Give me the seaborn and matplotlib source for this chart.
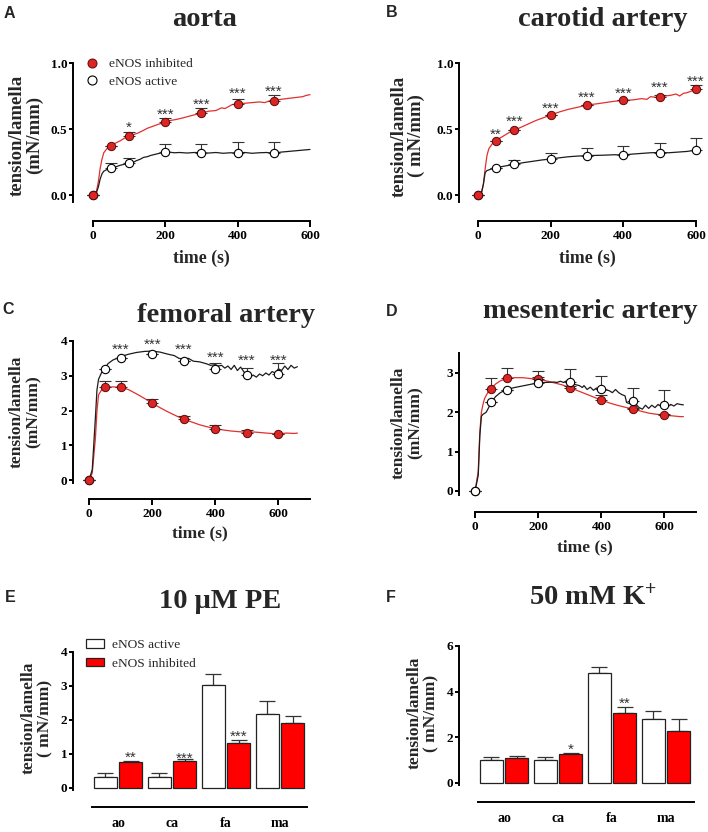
import numpy as np
import pandas as pd
import matplotlib
matplotlib.use("Agg")
import matplotlib.pyplot as plt
import seaborn as sns
from matplotlib.lines import Line2D
from matplotlib.patches import Patch
from matplotlib.ticker import FormatStrFormatter

# ======================= DATA =======================
# ---- Panel A : aorta ----
a_red_t = [0, 5, 10, 15, 20, 25, 30, 40, 50, 60, 75, 90, 100, 110, 125, 140, 150, 165, 180, 200,
           215, 230, 250, 270, 285, 300, 320, 340, 355, 365, 375, 385, 400, 420, 440, 460, 475, 490, 500, 520,
           535, 550, 565, 580, 590, 600]
a_red_v = [0, 0.0, 0.03, 0.1, 0.2, 0.27, 0.32, 0.355, 0.373, 0.39, 0.41, 0.435, 0.447, 0.455, 0.47, 0.49, 0.505, 0.52, 0.535, 0.55,
           0.565, 0.572, 0.585, 0.6, 0.61, 0.62, 0.635, 0.64, 0.66, 0.655, 0.67, 0.685, 0.69, 0.695, 0.70, 0.705, 0.70, 0.715, 0.715, 0.725,
           0.73, 0.735, 0.74, 0.745, 0.755, 0.76]
a_blk_t = [0, 10, 15, 20, 25, 30, 40, 50, 60, 75, 90, 100, 110, 120, 130, 140, 150, 160, 175, 190,
           200, 210, 225, 240, 260, 280, 300, 320, 340, 360, 380, 400, 420, 440, 460, 480, 500, 520, 540, 560,
           580, 600]
a_blk_v = [0, 0.02, 0.06, 0.12, 0.16, 0.18, 0.195, 0.202, 0.21, 0.225, 0.235, 0.24, 0.245, 0.26, 0.27, 0.285, 0.29, 0.3, 0.31, 0.32,
           0.323, 0.325, 0.32, 0.322, 0.318, 0.322, 0.32, 0.318, 0.322, 0.316, 0.32, 0.318, 0.322, 0.316, 0.32, 0.322, 0.316, 0.325, 0.33, 0.335,
           0.34, 0.345]
a_mark_t = [0, 50, 100, 200, 300, 400, 500]
a_red_mean = [0, 0.373, 0.447, 0.55, 0.624, 0.69, 0.715]
a_red_sem = [0, 0.0, 0.028, 0.036, 0.036, 0.04, 0.042]
a_blk_mean = [0, 0.202, 0.24, 0.323, 0.32, 0.32, 0.315]
a_blk_sem = [0, 0.038, 0.043, 0.061, 0.07, 0.08, 0.089]
a_star_t = [100, 200, 300, 400, 500]
a_star_lab = ["*", "***", "***", "***", "***"]
a_star_y = [0.545, 0.644, 0.72, 0.803, 0.818]

# ---- Panel B : carotid artery ----
b_red_t = [0, 10, 15, 20, 25, 30, 40, 50, 60, 75, 90, 100, 120, 140, 160, 180, 200, 225, 250, 275,
           300, 325, 350, 375, 400, 425, 450, 465, 475, 490, 500, 515, 530, 545, 555, 565, 575, 585, 600]
b_red_v = [0, 0.02, 0.08, 0.2, 0.3, 0.35, 0.39, 0.41, 0.43, 0.455, 0.48, 0.49, 0.515, 0.54, 0.565, 0.585, 0.606, 0.63, 0.65, 0.665,
           0.682, 0.69, 0.70, 0.71, 0.717, 0.72, 0.73, 0.725, 0.745, 0.74, 0.742, 0.75, 0.755, 0.765, 0.75, 0.77, 0.775, 0.785, 0.80]
b_blk_t = [0, 10, 15, 20, 25, 35, 50, 75, 100, 125, 150, 175, 200, 225, 250, 275, 300, 325, 350, 375,
           400, 425, 450, 475, 500, 525, 550, 575, 600]
b_blk_v = [0, 0.02, 0.08, 0.17, 0.185, 0.195, 0.207, 0.22, 0.232, 0.245, 0.255, 0.265, 0.273, 0.282, 0.29, 0.295, 0.298, 0.30, 0.302, 0.305,
           0.303, 0.31, 0.315, 0.32, 0.322, 0.32, 0.325, 0.33, 0.34]
b_mark_t = [0, 50, 100, 200, 300, 400, 500, 600]
b_red_mean = [0, 0.41, 0.49, 0.606, 0.682, 0.717, 0.742, 0.80]
b_red_sem = [0, 0, 0, 0, 0, 0, 0.018, 0.03]
b_blk_mean = [0, 0.207, 0.232, 0.273, 0.298, 0.303, 0.316, 0.341]
b_blk_sem = [0, 0, 0.033, 0.047, 0.06, 0.07, 0.08, 0.089]
b_star_t = [50, 100, 200, 300, 400, 500, 600]
b_star_lab = ["**", "***", "***", "***", "***", "***", "***"]
b_star_y = [0.49, 0.59, 0.684, 0.767, 0.803, 0.843, 0.889]

# ---- Panel C : femoral artery ----
c_red_t = [0, 10, 20, 25, 30, 40, 50, 75, 100, 125, 150, 175, 200, 225, 250, 275, 300, 325, 350, 375,
           400, 425, 450, 475, 500, 525, 550, 575, 600, 625, 650, 660]
c_red_v = [0, 0.2, 1.2, 2.0, 2.45, 2.6, 2.67, 2.68, 2.67, 2.6, 2.48, 2.35, 2.21, 2.08, 1.96, 1.85, 1.75, 1.67, 1.59, 1.53,
           1.48, 1.44, 1.41, 1.39, 1.37, 1.38, 1.36, 1.34, 1.33, 1.35, 1.34, 1.35]
c_blk_t = [0, 10, 20, 25, 30, 40, 50, 60, 75, 100, 125, 150, 175, 200, 225, 250, 270, 285, 300, 315,
           330, 350, 370, 385, 400, 410, 420, 430, 440, 450, 460, 470, 480, 490, 500, 510, 520, 530, 540, 550,
           560, 570, 580, 590, 600, 610, 620, 630, 640, 650, 660]
c_blk_v = [0, 0.3, 1.8, 2.6, 2.9, 3.1, 3.2, 3.35, 3.45, 3.55, 3.62, 3.67, 3.7, 3.71, 3.68, 3.62, 3.58, 3.5, 3.48, 3.5,
           3.42, 3.4, 3.35, 3.3, 3.32, 3.28, 3.3, 3.22, 3.28, 3.18, 3.3, 3.15, 3.25, 3.12, 3.0, 2.97, 3.02, 2.96, 3.05, 3.0,
           3.08, 3.02, 3.12, 3.08, 3.2, 3.15, 3.28, 3.18, 3.3, 3.22, 3.26]
c_mark_t = [0, 50, 100, 200, 300, 400, 500, 600]
c_red_mean = [0, 2.67, 2.67, 2.21, 1.75, 1.48, 1.36, 1.32]
c_red_sem = [0, 0.18, 0.19, 0.12, 0.1, 0.1, 0.08, 0.0]
c_blk_mean = [0, 3.20, 3.52, 3.62, 3.42, 3.18, 3.02, 3.05]
c_blk_sem = [0, 0, 0, 0, 0, 0.18, 0.19, 0.31]
c_star_t = [100, 200, 300, 400, 500, 600]
c_star_lab = ["***"] * 6
c_star_y = [3.88, 4.03, 3.88, 3.65, 3.55, 3.55]

# ---- Panel D : mesenteric artery ----
d_red_t = [0, 10, 15, 20, 25, 30, 40, 50, 65, 80, 100, 125, 150, 175, 200, 225, 250, 275, 300, 325,
           350, 375, 400, 425, 450, 475, 500, 525, 550, 575, 600, 625, 650, 660]
d_red_v = [0, 0.5, 1.5, 2.0, 2.2, 2.35, 2.5, 2.6, 2.72, 2.8, 2.86, 2.88, 2.88, 2.86, 2.84, 2.8, 2.75, 2.7, 2.63, 2.55,
           2.47, 2.39, 2.31, 2.24, 2.18, 2.13, 2.08, 2.03, 1.98, 1.95, 1.93, 1.91, 1.89, 1.89]
d_blk_t = [0, 10, 15, 20, 25, 35, 45, 50, 65, 80, 100, 125, 150, 175, 200, 225, 250, 260, 270, 280,
           290, 300, 310, 320, 330, 340, 345, 355, 365, 375, 385, 395, 405, 415, 425, 435, 445, 455, 465, 475,
           480, 490, 500, 510, 520, 530, 540, 550, 560, 570, 580, 590, 600, 610, 620, 630, 640, 650, 660]
d_blk_v = [0, 0.4, 1.4, 1.9, 1.95, 2.0, 2.15, 2.25, 2.4, 2.5, 2.58, 2.63, 2.67, 2.71, 2.75, 2.76, 2.77, 2.76, 2.79, 2.76,
           2.8, 2.78, 2.72, 2.7, 2.68, 2.63, 2.68, 2.58, 2.64, 2.56, 2.62, 2.58, 2.6, 2.57, 2.55, 2.5, 2.58, 2.5, 2.45, 2.42,
           2.25, 2.22, 2.3, 2.2, 2.12, 2.08, 2.18, 2.1, 2.18, 2.12, 2.2, 2.15, 2.18, 2.14, 2.2, 2.16, 2.22, 2.2, 2.19]
d_mark_t = [0, 50, 100, 200, 300, 400, 500, 600]
d_red_mean = [0, 2.59, 2.86, 2.84, 2.63, 2.31, 2.08, 1.93]
d_red_sem = [0, 0.27, 0.27, 0.05, 0.03, 0.13, 0.03, 0.02]
d_blk_mean = [0, 2.25, 2.58, 2.75, 2.78, 2.59, 2.30, 2.19]
d_blk_sem = [0, 0, 0, 0.31, 0.31, 0.33, 0.33, 0.38]

# ---- Panels E / F : bar charts ----
vessels = ["ao", "ca", "fa", "ma"]
conditions = ["eNOS active", "eNOS inhibited"]
e_active = [0.33, 0.33, 3.03, 2.17]
e_active_sem = [0.10, 0.10, 0.31, 0.38]
e_inhib = [0.75, 0.80, 1.33, 1.92]
e_inhib_sem = [0.05, 0.04, 0.08, 0.19]
e_star_lab = ["**", "***", "***", ""]
e_star_y = [1.03, 1.00, 1.62, 0]
f_active = [1.02, 1.02, 4.82, 2.78]
f_active_sem = [0.12, 0.11, 0.28, 0.37]
f_inhib = [1.10, 1.26, 3.07, 2.28]
f_inhib_sem = [0.07, 0.07, 0.24, 0.50]
f_star_lab = ["", "*", "**", ""]
f_star_y = [0, 1.66, 3.64, 0]

# ======================= STYLE =======================
sns.set_style("ticks")
plt.rcParams["font.family"] = ["Liberation Serif", "DejaVu Serif"]
plt.rcParams["font.weight"] = "bold"
plt.rcParams["mathtext.fontset"] = "custom"
plt.rcParams["mathtext.rm"] = "Liberation Serif:bold"
plt.rcParams["mathtext.default"] = "regular"

RED_LINE = "#e2302c"
RED_FILL = "#dc2626"
RED_EDGE = "#5c0a0a"
BLK_LINE = "#1c1c1c"
BAR_RED = "#ff0000"
ERR_COL = "#333333"

W, H, DPI = 708, 832, 100
PT = 72.0 / DPI  # pixels -> points
fig = plt.figure(figsize=(W / DPI, H / DPI), dpi=DPI)
fig.patch.set_facecolor("white")


def add_ax(rect):
    l, t, r, b = rect
    return fig.add_axes([l / W, 1 - b / H, (r - l) / W, (b - t) / H])


def to_ax(rect, px, py):
    l, t, r, b = rect
    return (px - l) / (r - l), (b - py) / (b - t)


def unclip_errorbar(cont):
    for art in cont.lines[1] + cont.lines[2]:
        art.set_clip_on(False)


def common_style(ax, rect, spine_off, xbounds, title, title_xy, ylab, ylab_xy, yfs,
                 xlab=None, xlab_xy=None, xfs=12.5, letter=None, letter_xy=None):
    for s in ["top", "right"]:
        ax.spines[s].set_visible(False)
    for s in ["left", "bottom"]:
        ax.spines[s].set_linewidth(1.4)
        ax.spines[s].set_color("black")
    ax.spines["bottom"].set_position(("outward", spine_off * PT))
    ax.spines["bottom"].set_bounds(*xbounds)
    ax.tick_params(axis="y", width=1.4, length=4 * PT, direction="out", labelsize=9.5, pad=1.2, colors="black")
    ax.tick_params(axis="x", width=1.4, length=6 * PT, direction="out", labelsize=9.5, pad=2.0, colors="black")
    tx, ty = to_ax(rect, *title_xy)
    ax.set_title(title, fontsize=20.5, fontweight="bold", x=tx, y=ty, va="center", ha="center", pad=0)
    ax.set_ylabel(ylab, fontsize=yfs, fontweight="bold", va="center", ha="center",
                  multialignment="center", linespacing=1.05)
    ax.yaxis.set_label_coords(*to_ax(rect, *ylab_xy))
    if xlab is not None:
        ax.set_xlabel(xlab, fontsize=xfs, fontweight="bold", va="center", ha="center")
        ax.xaxis.set_label_coords(*to_ax(rect, *xlab_xy))
    else:
        ax.set_xlabel("")
    fig.text(letter_xy[0] / W, 1 - letter_xy[1] / H, letter, family="Liberation Sans",
             fontweight="bold", fontsize=11.5, ha="center", va="center")


def line_panel(p):
    rect = p["rect"]
    ax = add_ax(rect)
    sns.lineplot(x=p["red_t"], y=p["red_v"], color=RED_LINE, lw=0.9, estimator=None, sort=False,
                 ax=ax, zorder=2, legend=False)
    sns.lineplot(x=p["blk_t"], y=p["blk_v"], color=BLK_LINE, lw=0.9, estimator=None, sort=False,
                 ax=ax, zorder=2, legend=False)
    for ln in ax.lines:
        ln.set_clip_on(False)
    n = len(p["mt"])
    c1 = ax.errorbar(p["mt"], p["red_m"], yerr=[np.zeros(n), p["red_e"]], fmt="none", ecolor=ERR_COL,
                     elinewidth=0.8, capsize=4.5, capthick=0.8, zorder=4)
    c2 = ax.errorbar(p["mt"], p["blk_m"], yerr=[np.zeros(n), p["blk_e"]], fmt="none", ecolor=ERR_COL,
                     elinewidth=0.8, capsize=4.5, capthick=0.8, zorder=4)
    unclip_errorbar(c1)
    unclip_errorbar(c2)
    z_red, z_blk = (6, 7) if p["black_top"] else (7, 6)
    sns.scatterplot(x=p["mt"], y=p["red_m"], color=RED_FILL, edgecolor=RED_EDGE, s=36, linewidth=0.7,
                    ax=ax, zorder=z_red, clip_on=False, legend=False)
    sns.scatterplot(x=p["mt"], y=p["blk_m"], color="white", edgecolor="black", s=36, linewidth=0.8,
                    ax=ax, zorder=z_blk, clip_on=False, legend=False)
    for st, sl, sy in zip(p["star_t"], p["star_lab"], p["star_y"]):
        ax.annotate(sl, (st, sy), xytext=(0, -6.0), textcoords="offset points", ha="center", va="baseline",
                    fontsize=11, family="Liberation Sans", fontweight="normal", color="#333333",
                    annotation_clip=False)
    ax.set_xlim(*p["xlim"])
    ax.set_ylim(*p["ylim"])
    ax.set_xticks([0, 200, 400, 600])
    ax.set_yticks(p["yticks"])
    if p["yfmt"]:
        ax.yaxis.set_major_formatter(FormatStrFormatter(p["yfmt"]))
    common_style(ax, rect, p["off"], p["xbounds"], p["title"], p["title_xy"], p["ylab"], p["ylab_xy"],
                 p["yfs"], "time (s)", p["xlab_xy"], p["xfs"], p["letter"], p["letter_xy"])
    return ax


panels = [
    dict(rect=(73, 63, 310, 202), red_t=a_red_t, red_v=a_red_v, blk_t=a_blk_t, blk_v=a_blk_v,
         mt=a_mark_t, red_m=a_red_mean, red_e=a_red_sem, blk_m=a_blk_mean, blk_e=a_blk_sem,
         star_t=a_star_t, star_lab=a_star_lab, star_y=a_star_y, black_top=False,
         xlim=(-55, 600), ylim=(-0.053, 1.0), yticks=[0, 0.5, 1.0], yfmt="%.1f", off=19, xbounds=(0, 600),
         title="aorta", title_xy=(205, 20), ylab="tension/lamella\n(mN/mm)", ylab_xy=(26, 135), yfs=13.5,
         xlab_xy=(201.5, 258), xfs=12.8, letter="A", letter_xy=(9, 13.5)),
    dict(rect=(459, 63, 696, 202), red_t=b_red_t, red_v=b_red_v, blk_t=b_blk_t, blk_v=b_blk_v,
         mt=b_mark_t, red_m=b_red_mean, red_e=b_red_sem, blk_m=b_blk_mean, blk_e=b_blk_sem,
         star_t=b_star_t, star_lab=b_star_lab, star_y=b_star_y, black_top=False,
         xlim=(-52, 600), ylim=(-0.053, 1.0), yticks=[0, 0.5, 1.0], yfmt="%.1f", off=19, xbounds=(0, 600),
         title="carotid artery", title_xy=(603, 20), ylab="tension/lamella\n( mN/mm)", ylab_xy=(408, 136),
         yfs=13.5, xlab_xy=(587, 258), xfs=12.8, letter="B", letter_xy=(392, 12.5)),
    dict(rect=(73, 341, 310, 483), red_t=c_red_t, red_v=c_red_v, blk_t=c_blk_t, blk_v=c_blk_v,
         mt=c_mark_t, red_m=c_red_mean, red_e=c_red_sem, blk_m=c_blk_mean, blk_e=c_blk_sem,
         star_t=c_star_t, star_lab=c_star_lab, star_y=c_star_y, black_top=False,
         xlim=(-51, 700), ylim=(-0.086, 4.0), yticks=[0, 1, 2, 3, 4], yfmt=None, off=16, xbounds=(0, 700),
         title="femoral artery", title_xy=(226, 315), ylab="tension/lamella\n(mN/mm)", ylab_xy=(25, 412),
         yfs=12.5, xlab_xy=(199.5, 533), xfs=12.5, letter="C", letter_xy=(8, 310)),
    dict(rect=(459, 353, 696, 495), red_t=d_red_t, red_v=d_red_v, blk_t=d_blk_t, blk_v=d_blk_v,
         mt=d_mark_t, red_m=d_red_mean, red_e=d_red_sem, blk_m=d_blk_mean, blk_e=d_blk_sem,
         star_t=[], star_lab=[], star_y=[], black_top=True,
         xlim=(-51, 700), ylim=(-0.102, 3.508), yticks=[0, 1, 2, 3], yfmt=None, off=17, xbounds=(0, 700),
         title="mesenteric artery", title_xy=(590, 311.5), ylab="tension/lamella\n(mN/mm)", ylab_xy=(407, 423),
         yfs=12.5, xlab_xy=(585, 547), xfs=12.5, letter="D", letter_xy=(392, 312)),
]

axes = [line_panel(p) for p in panels]

# legend for panel A
axA = axes[0]
hA = [Line2D([], [], marker="o", ls="none", markerfacecolor=RED_FILL, markeredgecolor=RED_EDGE,
             markersize=6.5, markeredgewidth=0.7),
      Line2D([], [], marker="o", ls="none", markerfacecolor="white", markeredgecolor="black",
             markersize=6.5, markeredgewidth=0.8)]
axA.legend(hA, ["eNOS inhibited", "eNOS active"], loc="upper left",
           bbox_to_anchor=to_ax(panels[0]["rect"], 85, 58), borderaxespad=0, borderpad=0,
           handlelength=1.0, handletextpad=0.8, labelspacing=0.4, frameon=False,
           prop={"family": "Liberation Serif", "weight": "normal", "size": 9.6})


def bar_panel(rect, active, active_e, inhib, inhib_e, star_lab, star_y, grp0_px, ylim, yticks,
              title, title_xy, ylab, ylab_xy, letter, letter_xy, legend=False):
    ax = add_ax(rect)
    df = pd.DataFrame({"vessel": vessels * 2,
                       "cond": [conditions[0]] * len(vessels) + [conditions[1]] * len(vessels),
                       "value": list(active) + list(inhib)})
    sns.barplot(data=df, x="vessel", y="value", hue="cond", order=vessels, hue_order=conditions,
                palette={conditions[0]: "white", conditions[1]: BAR_RED}, saturation=1,
                width=0.93, gap=0.08, errorbar=None, edgecolor="#222222", linewidth=0.9,
                legend=False, ax=ax)
    bars = sorted([b for b in ax.patches if b.get_height() > 0], key=lambda b: b.get_x())
    xs = [b.get_x() + b.get_width() / 2 for b in bars]
    hs = [b.get_height() for b in bars]
    errs = []
    for i in range(len(vessels)):
        errs += [active_e[i], inhib_e[i]]
    ax.errorbar(xs, hs, yerr=[np.zeros(len(xs)), errs], fmt="none", ecolor=ERR_COL, elinewidth=0.9,
                capsize=6, capthick=0.9, zorder=0.5)
    for i, (sl, sy) in enumerate(zip(star_lab, star_y)):
        if sl:
            ax.annotate(sl, (xs[2 * i + 1], sy), xytext=(0, -6.0), textcoords="offset points",
                        ha="center", va="baseline", fontsize=11, family="Liberation Sans",
                        fontweight="normal", color="#333333", annotation_clip=False)
    l, t, r, b = rect
    unit = 54.0
    ax.set_xlim((l - grp0_px) / unit, (r - grp0_px) / unit)
    ax.set_ylim(*ylim)
    ax.set_yticks(yticks)
    common_style(ax, rect, 17, ((l + 19 - grp0_px) / unit, (r - grp0_px) / unit), title, title_xy,
                 ylab, ylab_xy, 12.5, None, None, 12.5, letter, letter_xy)
    ax.tick_params(axis="x", length=0, pad=7.5, labelsize=10)
    if legend:
        hs_ = [Patch(facecolor="white", edgecolor="#222222", linewidth=0.9),
               Patch(facecolor=BAR_RED, edgecolor="#222222", linewidth=0.9)]
        ax.legend(hs_, conditions, loc="upper left", bbox_to_anchor=to_ax(rect, 86, 639),
                  borderaxespad=0, borderpad=0, handlelength=1.35, handleheight=0.6,
                  handletextpad=0.6, labelspacing=0.52, frameon=False,
                  prop={"family": "Liberation Serif", "weight": "normal", "size": 9.6})
    return ax


bar_panel((73, 652, 307, 790), e_active, e_active_sem, e_inhib, e_inhib_sem, e_star_lab, e_star_y,
          118, (-0.06, 4.0), [0, 1, 2, 3, 4], "10 \u03bcM PE", (220, 601.5),
          "tension/lamella\n( mN/mm)", (37, 718), "E", (10, 598), legend=True)
bar_panel((459, 646, 694, 785), f_active, f_active_sem, f_inhib, f_inhib_sem, f_star_lab, f_star_y,
          504, (-0.09, 6.0), [0, 2, 4, 6], "50 mM K$^{+}$", (593, 597),
          "tension/lamella\n( mN/mm)", (423, 713), "F", (391, 598))

fig.savefig("out.png", dpi=DPI, facecolor="white")
